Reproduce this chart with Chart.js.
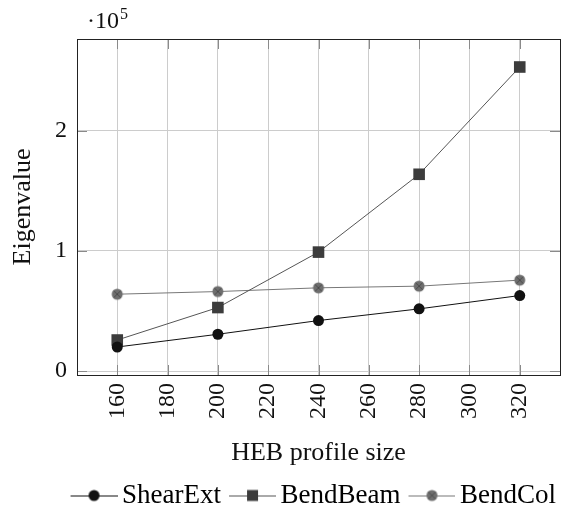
<!DOCTYPE html>
<html>
<head>
<meta charset="utf-8">
<script src="https://cdn.jsdelivr.net/npm/chart.js@4"></script>
<style>
  html, body { margin: 0; padding: 0; background: #fff; }
  #wrap { width: 569px; height: 513px; }
</style>
</head>
<body>
<div id="wrap"><canvas id="chart" width="569" height="513"></canvas></div>
<script>
// data
const sizes = [160, 200, 240, 280, 320];
const shearExt = [20000, 30600, 42000, 51700, 62800];
const bendBeam = [25800, 52800, 98900, 163600, 252800];
const bendCol = [63900, 66100, 69200, 70600, 75600];
const xTicks = [160, 180, 200, 220, 240, 260, 280, 300, 320];
const yTicks = [0, 100000, 200000];

const FONT = "'Liberation Serif', 'DejaVu Serif', serif";
const FS = 24;   // tick labels
const FT = 26;   // axis titles
const FL = 27;   // legend

// marker drawing shared by the plot points and the legend icons
function drawMarker(g, kind, fill, cx, cy) {
  g.fillStyle = fill;
  if (kind === 'square') {
    g.fillRect(cx - 5.5, cy - 5.5, 11, 11);
    return;
  }
  g.beginPath(); g.arc(cx, cy, 5.5, 0, Math.PI * 2); g.fill();
  if (kind === 'otimes') {
    g.strokeStyle = '#4a4a4a';
    g.lineWidth = 1;
    const d = 3.6;
    g.beginPath();
    g.moveTo(cx - d, cy - d); g.lineTo(cx + d, cy + d);
    g.moveTo(cx + d, cy - d); g.lineTo(cx - d, cy + d);
    g.stroke();
  }
}

function pointIcon(kind, fill) {
  const c = document.createElement('canvas');
  c.width = 14; c.height = 14;
  drawMarker(c.getContext('2d'), kind, fill, 7, 7);
  return c;
}

// legend icon: line with the marker on it, pgfplots style
function legendIcon(kind, fill, lineColor) {
  const c = document.createElement('canvas');
  c.width = 60; c.height = 14;
  const g = c.getContext('2d');
  g.strokeStyle = lineColor;
  g.lineWidth = 1;
  g.beginPath(); g.moveTo(13, 7.5); g.lineTo(60, 7.5); g.stroke();
  drawMarker(g, kind, fill, 36.5, 7);
  return c;
}

const otimes = pointIcon('otimes', '#6e6e6e');
const legendIcons = [
  legendIcon('circle', '#111', '#111'),
  legendIcon('square', '#3c3c3c', '#555'),
  legendIcon('otimes', '#6e6e6e', '#777')
];

const frame = {
  id: 'frame',
  beforeDatasetsDraw(chart) {
    // short darker tick marks inside the axis box
    const { ctx, chartArea: a, scales } = chart;
    ctx.save();
    ctx.strokeStyle = '#8a8a8a';
    ctx.lineWidth = 1;
    ctx.beginPath();
    scales.x.ticks.forEach(t => {
      const px = Math.round(scales.x.getPixelForValue(t.value)) + 0.5;
      ctx.moveTo(px, a.bottom); ctx.lineTo(px, a.bottom - 10);
      ctx.moveTo(px, a.top); ctx.lineTo(px, a.top + 10);
    });
    scales.y.ticks.forEach(t => {
      const py = Math.round(scales.y.getPixelForValue(t.value)) + 0.5;
      ctx.moveTo(a.left, py); ctx.lineTo(a.left + 10, py);
      ctx.moveTo(a.right, py); ctx.lineTo(a.right - 10, py);
    });
    ctx.stroke();
    ctx.restore();
  },
  afterDraw(chart) {
    const { ctx, chartArea: a } = chart;
    ctx.save();
    ctx.strokeStyle = '#222';
    ctx.lineWidth = 1;
    ctx.strokeRect(Math.round(a.left) + 0.5, Math.round(a.top) + 0.5,
      Math.round(a.right - a.left), Math.round(a.bottom - a.top));
    // scale factor label
    ctx.fillStyle = '#111';
    ctx.textBaseline = 'alphabetic';
    ctx.font = FS + 'px ' + FONT;
    ctx.fillText('\u00b710', 87, 28);
    const w = ctx.measureText('\u00b710').width;
    ctx.font = '16px ' + FONT;
    ctx.fillText('5', 87 + w + 1, 19);
    ctx.restore();
  }
};

new Chart(document.getElementById('chart'), {
  type: 'line',
  data: {
    datasets: [
      {
        label: 'ShearExt',
        data: sizes.map((x, i) => ({ x, y: shearExt[i] })),
        borderColor: '#111', backgroundColor: '#111',
        borderWidth: 1, pointStyle: 'circle', pointRadius: 5.5,
        pointBorderWidth: 0, order: 1
      },
      {
        label: 'BendBeam',
        data: sizes.map((x, i) => ({ x, y: bendBeam[i] })),
        borderColor: '#555', backgroundColor: '#3c3c3c',
        borderWidth: 1, pointStyle: 'rect', pointRadius: 8.2,
        pointBorderWidth: 0, order: 2
      },
      {
        label: 'BendCol',
        data: sizes.map((x, i) => ({ x, y: bendCol[i] })),
        borderColor: '#777', backgroundColor: '#6e6e6e',
        borderWidth: 1, pointStyle: otimes, pointRadius: 5.5,
        pointBorderWidth: 0, order: 3
      }
    ]
  },
  options: {
    responsive: false,
    animation: false,
    layout: { padding: { top: 39, right: 9, left: 0, bottom: -6 } },
    plugins: {
      tooltip: { enabled: false },
      legend: {
        position: 'bottom',
        align: 'end',
        labels: {
          font: { family: FONT, size: FL },
          color: '#111',
          boxHeight: 14,
          pointStyleWidth: 42,
          padding: 4,
          usePointStyle: true,
          generateLabels(chart) {
            return chart.data.datasets.map((ds, i) => ({
              text: ds.label,
              pointStyle: legendIcons[i],
              datasetIndex: i,
              hidden: false,
              lineWidth: 0
            }));
          }
        }
      }
    },
    scales: {
      x: {
        type: 'linear',
        min: 144, max: 336,
        afterBuildTicks(s) { s.ticks = xTicks.map(v => ({ value: v })); },
        afterFit(s) { s.height = 103; },
        ticks: {
          minRotation: 90, maxRotation: 90, padding: 8,
          color: '#111', font: { family: FONT, size: FS }
        },
        grid: { color: '#cccccc', drawTicks: false },
        border: { display: false },
        title: {
          display: true, text: 'HEB profile size', color: '#111',
          font: { family: FONT, size: FT }, padding: { top: 0, bottom: 9 }
        }
      },
      y: {
        min: -3280, max: 276080,
        afterBuildTicks(s) { s.ticks = yTicks.map(v => ({ value: v })); },
        afterFit(s) { s.width = 77; },
        ticks: {
          padding: 10, color: '#111', font: { family: FONT, size: FS },
          callback: v => String(v / 100000)
        },
        grid: { color: '#cccccc', drawTicks: false },
        border: { display: false },
        title: {
          display: true, text: 'Eigenvalue', color: '#111',
          font: { family: FONT, size: FT }, padding: { top: 8, bottom: 0 }
        }
      }
    }
  },
  plugins: [frame]
});
</script>
</body>
</html>
